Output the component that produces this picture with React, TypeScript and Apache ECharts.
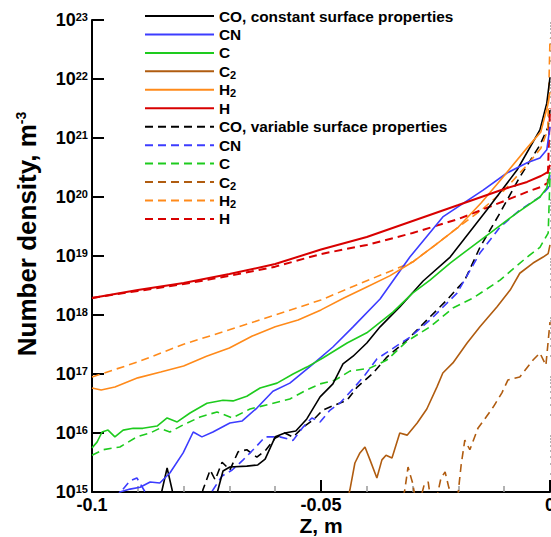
import React, { useEffect, useRef } from "react";
import * as echarts from "echarts";

const FONT = '"Liberation Sans", Arial, Helvetica, sans-serif';

// Z [m], number density [m^-3]
const coConst: [number, number][] = [
  [-0.0856, 5e14], [-0.0847, 1.08e15], [-0.0836, 2.55e15], [-0.0825, 1.08e15], [-0.0817, 5e14],
  [-0.0734, 6e14], [-0.0725, 1.08e15], [-0.0714, 2.27e15], [-0.0699, 2.65e15], [-0.0662, 2.75e15],
  [-0.0638, 2.87e15], [-0.0622, 3.6e15], [-0.06, 8.6e15], [-0.0579, 1.0e16], [-0.0555, 1.08e16],
  [-0.0531, 1.73e16], [-0.0502, 4.1e16], [-0.0474, 6.8e16], [-0.0452, 1.48e17], [-0.043, 2.0e17],
  [-0.04, 3.35e17], [-0.0371, 6.3e17], [-0.0328, 1.37e18], [-0.0277, 3.77e18], [-0.0218, 9.6e18],
  [-0.0138, 6.0e19], [-0.0072, 2.87e20], [-0.0022, 1.37e21], [-0.0007, 3.9e21], [0, 1.07e22],
];
const cnConst: [number, number][] = [
  [-0.095, 7e14], [-0.0939, 1.0e15], [-0.0917, 1.12e15], [-0.0895, 1.2e15], [-0.0873, 1.48e15],
  [-0.0852, 1.42e15], [-0.083, 2.1e15], [-0.0801, 4.6e15], [-0.0779, 1.04e16], [-0.076, 8.6e15],
  [-0.0736, 1.04e16], [-0.0699, 1.48e16], [-0.0672, 1.6e16], [-0.064, 2.65e16], [-0.0605, 5.1e16],
  [-0.0568, 7.0e16], [-0.0517, 1.48e17], [-0.0474, 2.87e17], [-0.043, 6.3e17], [-0.0371, 1.87e18],
  [-0.0306, 9.6e18], [-0.0234, 4.6e19], [-0.0146, 1.31e20], [-0.0094, 2.55e20], [-0.005, 3.8e20],
  [-0.0022, 4.6e20], [-0.0007, 6.3e20], [0, 1.55e21],
];
const cConst: [number, number][] = [
  [-0.1, 5.6e15], [-0.0989, 7.0e15], [-0.0978, 1.04e16], [-0.0965, 1.12e16], [-0.095, 8.6e15],
  [-0.0932, 1.12e16], [-0.091, 1.2e16], [-0.0889, 1.2e16], [-0.0858, 1.31e16], [-0.0836, 1.8e16],
  [-0.0814, 1.54e16], [-0.0786, 2.18e16], [-0.0749, 3.2e16], [-0.0714, 3.6e16], [-0.0692, 3.5e16],
  [-0.0662, 4.2e16], [-0.0633, 5.8e16], [-0.0596, 7.0e16], [-0.0561, 1.0e17], [-0.0531, 1.31e17],
  [-0.0496, 1.87e17], [-0.0443, 3.35e17], [-0.04, 5.0e17], [-0.0343, 1.12e18], [-0.03, 2.35e18],
  [-0.0262, 3.9e18], [-0.0218, 7.6e18], [-0.0131, 2.45e19], [-0.0072, 5.4e19], [-0.0022, 1.0e20],
  [-0.0007, 1.42e20], [0, 2.65e20],
];
const c2Const: [number, number][] = [
  [-0.0448, 5e14], [-0.0437, 1.08e15], [-0.0426, 3.1e15], [-0.0415, 4.6e15], [-0.0404, 5.8e15],
  [-0.0393, 3.5e15], [-0.0378, 1.73e15], [-0.0367, 3.5e15], [-0.0358, 4.2e15], [-0.0345, 3.77e15],
  [-0.0328, 1.0e16], [-0.0312, 9.2e15], [-0.029, 1.48e16], [-0.0269, 2.55e16], [-0.0247, 6.0e16],
  [-0.0234, 1.04e17], [-0.0212, 1.54e17], [-0.0181, 3.35e17], [-0.0153, 6.3e17], [-0.0116, 1.37e18],
  [-0.0087, 2.65e18], [-0.0066, 5.1e18], [-0.0037, 7.6e18], [-0.0015, 9.6e18], [-0.0004, 1.1e19],
  [0, 1.54e19],
];
const h2Const: [number, number][] = [
  [-0.1, 5.8e16], [-0.098, 5.35e16], [-0.095, 6.0e16], [-0.09, 8.6e16], [-0.085, 1.08e17],
  [-0.08, 1.37e17], [-0.075, 2.0e17], [-0.07, 2.75e17], [-0.065, 4.4e17], [-0.06, 6.3e17],
  [-0.055, 8.2e17], [-0.05, 1.22e18], [-0.045, 1.94e18], [-0.04, 2.99e18], [-0.035, 4.6e18],
  [-0.03, 7.9e18], [-0.025, 1.55e19], [-0.02, 3.1e19], [-0.015, 8.0e19], [-0.01, 2.3e20],
  [-0.005, 6.8e20], [-0.002, 1.27e21], [-0.0005, 3.6e21], [0, 6.0e21],
];
const hConst: [number, number][] = [
  [-0.1, 1.94e18], [-0.09, 2.65e18], [-0.08, 3.49e18], [-0.07, 4.95e18], [-0.06, 7.3e18],
  [-0.05, 1.29e19], [-0.04, 2.1e19], [-0.03, 3.92e19], [-0.02, 7.3e19], [-0.01, 1.37e20],
  [-0.005, 1.8e20], [-0.002, 2.27e20], [-0.0005, 2.65e20], [0, 3.5e20],
];
const coVar: [number, number][] = [
  [-0.0764, 6e14], [-0.0758, 1.08e15], [-0.0742, 2.36e15], [-0.0731, 1.6e15], [-0.0716, 3.2e15],
  [-0.0699, 2.36e15], [-0.0681, 4.8e15], [-0.0662, 5.2e15], [-0.064, 3.9e15], [-0.062, 5.2e15],
  [-0.06, 8.2e15], [-0.0579, 1.0e16], [-0.0561, 8.5e15], [-0.0539, 1.26e16], [-0.0517, 1.66e16],
  [-0.0496, 2.45e16], [-0.0469, 3.0e16], [-0.0443, 3.6e16], [-0.0421, 6.0e16], [-0.0386, 1.04e17],
  [-0.0356, 1.94e17], [-0.0312, 3.77e17], [-0.0269, 8.2e17], [-0.0225, 1.8e18], [-0.0186, 3.9e18],
  [-0.0153, 1.4e19], [-0.0109, 5.4e19], [-0.0066, 2.18e20], [-0.0022, 7.6e20], [-0.0004, 1.54e21],
  [0, 2.97e21],
];
const cnVar: [number, number][] = [
  [-0.0943, 7e14], [-0.0934, 1.08e15], [-0.0917, 1.54e15], [-0.0902, 1.73e15], [-0.0884, 1.0e15],
  [-0.0873, 6e14], [-0.0764, 6e14], [-0.0736, 1.08e15], [-0.0716, 1.87e15], [-0.0694, 2.36e15],
  [-0.067, 3.5e15], [-0.0644, 5.6e15], [-0.0622, 8.6e15], [-0.059, 8.6e15], [-0.0561, 7.5e15],
  [-0.0539, 1.26e16], [-0.052, 1.8e16], [-0.0502, 1.54e16], [-0.048, 2.45e16], [-0.0459, 3.2e16],
  [-0.043, 5.6e16], [-0.0404, 9.6e16], [-0.0378, 1.8e17], [-0.0306, 4.2e17], [-0.0262, 8.2e17],
  [-0.0203, 2.35e18], [-0.0153, 1.12e19], [-0.0109, 3.1e19], [-0.0066, 6.0e19], [-0.0022, 1.0e20],
  [-0.0004, 1.42e20], [0, 2.35e20],
];
const cVar: [number, number][] = [
  [-0.1, 4.2e15], [-0.0976, 5.2e15], [-0.0939, 5.8e15], [-0.0902, 8.6e15], [-0.0873, 1.0e16],
  [-0.0852, 1.2e16], [-0.083, 1.04e16], [-0.0801, 1.37e16], [-0.0764, 1.87e16], [-0.0727, 2.27e16],
  [-0.0694, 1.8e16], [-0.0655, 2.55e16], [-0.0611, 3.1e16], [-0.0568, 3.77e16], [-0.0531, 5.4e16],
  [-0.0502, 6.8e16], [-0.0469, 7.9e16], [-0.0437, 1.12e17], [-0.0393, 1.26e17], [-0.0356, 1.73e17],
  [-0.0312, 3.6e17], [-0.0262, 6.3e17], [-0.0212, 1.31e18], [-0.0168, 1.94e18], [-0.0109, 3.9e18],
  [-0.005, 9.6e18], [-0.0022, 1.4e19], [-0.0004, 2.45e19], [0, 2.1e20],
];
const c2Var: [number, number][] = [
  [-0.0328, 5e14], [-0.0317, 1.08e15], [-0.031, 2.65e15], [-0.03, 1.42e15], [-0.0293, 7e14],
  [-0.0284, 7e14], [-0.0275, 1.3e15], [-0.0266, 1.48e15], [-0.026, 7e14], [-0.0249, 7e14],
  [-0.0238, 1.73e15], [-0.0229, 2.18e15], [-0.0221, 1.2e15], [-0.0212, 7e14], [-0.0201, 8.9e14],
  [-0.0194, 2.87e15], [-0.0186, 7.6e15], [-0.0175, 5.2e15], [-0.0157, 1.22e16], [-0.0144, 1.66e16],
  [-0.0124, 2.75e16], [-0.0105, 4.8e16], [-0.0092, 7.9e16], [-0.0066, 8.9e16], [-0.0037, 1.73e17],
  [-0.0022, 2.27e17], [-0.0009, 1.4e17], [0, 7.6e17],
];
const h2Var: [number, number][] = [
  [-0.1, 8.9e16], [-0.09, 1.6e17], [-0.08, 3.2e17], [-0.07, 5.6e17], [-0.06, 1.0e18],
  [-0.05, 1.8e18], [-0.04, 3.8e18], [-0.03, 7.9e18], [-0.025, 1.55e19], [-0.02, 3.1e19],
  [-0.015, 6.0e19], [-0.01, 1.3e20], [-0.005, 3.5e20], [-0.002, 6.7e20], [-0.0005, 1.37e21],
  [-0.0002, 1.07e22], [0, 4.9e22],
];
const hVar: [number, number][] = [
  [-0.1, 1.94e18], [-0.09, 2.55e18], [-0.08, 3.35e18], [-0.07, 4.6e18], [-0.06, 6.6e18],
  [-0.05, 1.08e19], [-0.04, 1.54e19], [-0.03, 2.45e19], [-0.02, 4.24e19], [-0.01, 8.55e19],
  [-0.005, 1.22e20], [-0.002, 1.48e20], [-0.0005, 1.73e20], [-0.0003, 6.3e20], [0, 3.2e21],
];

const xTicks = { min: -0.1, max: 0, interval: 0.05 };
const yDecades = { min: 15, max: 23 };

const seriesNames = [
  "CO, constant surface properties", "CN", "C", "C2", "H2", "H",
  "CO, variable surface properties", "CN (var)", "C (var)", "C2 (var)", "H2 (var)", "H (var)",
];
const legendLabels: Record<string, string> = {
  "CO, constant surface properties": "{n|CO, constant surface properties}{sub| }",
  "CN": "{n|CN}{sub| }",
  "C": "{n|C}{sub| }",
  "C2": "{n|C}{sub|2}",
  "H2": "{n|H}{sub|2}",
  "H": "{n|H}{sub| }",
  "CO, variable surface properties": "{n|CO, variable surface properties}{sub| }",
  "CN (var)": "{n|CN}{sub| }",
  "C (var)": "{n|C}{sub| }",
  "C2 (var)": "{n|C}{sub|2}",
  "H2 (var)": "{n|H}{sub|2}",
  "H (var)": "{n|H}{sub| }",
};
const seriesData = [coConst, cnConst, cConst, c2Const, h2Const, hConst, coVar, cnVar, cVar, c2Var, h2Var, hVar];
const colors = ["#000000", "#3c3cff", "#1ecb1e", "#b05c10", "#ff8a1a", "#d80000"];

export default function App() {
  const ref = useRef<HTMLDivElement>(null);
  useEffect(() => {
    document.body.style.margin = "0";
    if (!ref.current) return;
    const chart = echarts.init(ref.current, null, { renderer: "svg" });

    const minorLog: number[] = [];
    for (let d = yDecades.min; d < yDecades.max; d++) {
      for (let k = 2; k <= 9; k++) minorLog.push(d + Math.log10(k));
    }

    const series = seriesNames.map((name, i) => ({
      name,
      type: "line",
      data: seriesData[i],
      showSymbol: false,
      symbol: "none",
      clip: true,
      xAxisIndex: 0,
      yAxisIndex: 0,
      lineStyle: {
        color: colors[i % 6],
        width: i % 6 === 5 ? 2 : 1.6,
        type: i < 6 ? "solid" : [8, 5],
      },
      itemStyle: { color: colors[i % 6] },
      emphasis: { disabled: true },
      z: i < 6 ? 3 : 2,
    }));

    chart.setOption({
      animation: false,
      backgroundColor: "#ffffff",
      grid: { left: 92, right: 1, top: 20, bottom: 45, containLabel: false, outerBoundsMode: "none" },
      legend: {
        orient: "vertical",
        left: 139,
        top: 2,
        itemWidth: 69,
        itemHeight: 14,
        itemGap: 0.45,
        selectedMode: false,
        data: seriesNames,
        itemStyle: { opacity: 0 },
        formatter: (n: string) => legendLabels[n],
        textStyle: {
          color: "#000",
          fontSize: 15.4,
          fontWeight: "bold",
          fontFamily: FONT,
          lineHeight: 18,
          rich: {
            n: { fontSize: 15.4, fontWeight: "bold", fontFamily: FONT, color: "#000", lineHeight: 18 },
            sub: { fontSize: 11, fontWeight: "bold", fontFamily: FONT, color: "#000", lineHeight: 1, verticalAlign: "bottom" },
          },
        },
      },
      xAxis: {
        type: "value",
        min: xTicks.min,
        max: xTicks.max,
        interval: xTicks.interval,
        axisLine: { onZero: false, lineStyle: { color: "#000", width: 2 } },
        axisTick: { inside: true, length: 12, lineStyle: { color: "#000", width: 2 } },
        minorTick: { show: true, splitNumber: 5, length: 6, lineStyle: { color: "#999", width: 1.5 } },
        splitLine: { show: false },
        axisLabel: { margin: 4, color: "#000", fontSize: 18, fontWeight: "bold", fontFamily: FONT },
      },
      yAxis: [
        {
          type: "log",
          logBase: 10,
          min: Math.pow(10, yDecades.min),
          max: Math.pow(10, yDecades.max),
          position: "left",
          axisLine: { show: true, onZero: false, lineStyle: { color: "#000", width: 2 } },
          axisTick: { show: true, inside: true, length: 12, lineStyle: { color: "#000", width: 2 } },
          splitLine: { show: false },
          axisLabel: {
            margin: 4,
            formatter: (v: number) => `{b|10}{s|${Math.round(Math.log10(v))}}`,
            rich: {
              b: { fontSize: 18, fontWeight: "bold", fontFamily: FONT, color: "#000", lineHeight: 18 },
              s: { fontSize: 11, fontWeight: "bold", fontFamily: FONT, color: "#000", lineHeight: 8, verticalAlign: "top" },
            },
          },
        },
        {
          type: "value",
          min: yDecades.min,
          max: yDecades.max,
          position: "left",
          axisLine: { show: false },
          axisLabel: { show: false },
          splitLine: { show: false },
          axisTick: { show: true, inside: true, length: 8, customValues: minorLog, lineStyle: { color: "#999", width: 1.5 } },
        },
      ],
      graphic: [
        {
          type: "text",
          x: 27,
          y: 234,
          rotation: Math.PI / 2,
          style: {
            text: "{a|Number density, m}{s|-3}",
            align: "center",
            verticalAlign: "middle",
            rich: {
              a: { fontSize: 26, fontWeight: "bold", fontFamily: FONT, fill: "#000", lineHeight: 26 },
              s: { fontSize: 14, fontWeight: "bold", fontFamily: FONT, fill: "#000", lineHeight: 10, verticalAlign: "top" },
            },
          },
        },
        {
          type: "text",
          x: 321,
          y: 525,
          style: {
            text: "Z, m",
            align: "center",
            verticalAlign: "middle",
            fontSize: 21,
            fontWeight: "bold",
            fontFamily: FONT,
            fill: "#000",
          },
        },
      ],
      series,
    });
    return () => chart.dispose();
  }, []);
  return <div ref={ref} style={{ width: 551, height: 537 }} />;
}
